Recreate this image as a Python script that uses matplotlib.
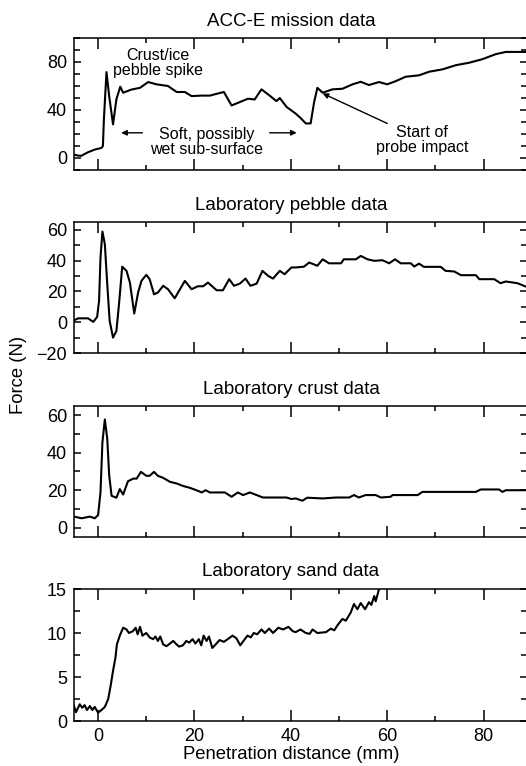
import matplotlib
matplotlib.use("Agg")
import matplotlib.pyplot as plt
from matplotlib.ticker import MultipleLocator

plt.rcParams['font.family'] = ['Liberation Sans', 'DejaVu Sans']

# ACC-E mission data (mm, N)
acc_x = [-5, -4.1, -3.5, -2.1, -0.7, 0.7, 1.0, 1.2, 1.74, 2.3, 3.1, 3.8, 4.6, 5.2, 6.9, 8.7,
         10.4, 12.1, 14.5, 16.3, 18.0, 19.4, 21.5, 23.2, 24.9, 26.1, 27.7, 29.4, 31.1, 32.5,
         33.9, 35.6, 37.0, 37.7, 39.1, 41.0, 42.0, 43.1, 44.1, 44.8, 45.5, 46.6, 48.6, 50.7,
         52.8, 54.5, 56.2, 58.3, 60.0, 61.8, 63.8, 66.6, 68.7, 71.5, 74.2, 77.0, 79.7, 82.5,
         84.6, 89.0]
acc_f = [2.8, 2.0, 1.8, 4.8, 7.0, 8.4, 10, 32, 71.6, 51.6, 28, 49, 59.4, 54.4, 57, 58.5,
         63.3, 61.4, 60, 55, 55, 51.6, 52, 52, 53.8, 55, 43.8, 46.6, 49.4, 48.8,
         57.2, 52, 47.4, 50, 42.6, 37, 33.4, 28.8, 28.8, 46, 58.5, 54.4, 57.2, 57.7,
         61.4, 63.5, 60.8, 63.3, 61.4, 64.1, 67.7, 68.9, 71.9, 73.9, 77.3, 79.4, 82.3, 86.5,
         88.4, 88.4]

# laboratory pebble data
pebble_x = [-5, -4.1, -2.1, -1.0, -0.2, 0.2, 0.5, 0.9, 1.4, 1.9, 2.4, 3.1, 3.8, 4.4, 5.0,
            5.9, 6.6, 7.5, 8.3, 9.0, 10.0, 10.7, 11.6, 12.4, 13.5, 14.5, 15.9, 17.0, 18.0,
            19.4, 20.7, 21.8, 22.8, 24.6, 25.9, 27.2, 28.2, 29.4, 30.6, 31.6, 32.9, 34.1,
            35.3, 36.3, 37.7, 38.7, 40.1, 41.0, 42.7, 43.8, 45.5, 46.6, 47.9, 50.4, 51.0,
            53.5, 54.5, 55.9, 57.3, 59.0, 60.4, 61.6, 62.8, 64.9, 65.6, 66.6, 67.6, 71.1,
            72.1, 73.9, 75.3, 78.4, 79.1, 82.2, 83.5, 84.6, 87.0, 89.0]
pebble_f = [1.2, 2.5, 2.5, 0.2, 3.4, 13.8, 42, 58.8, 50.6, 24.6, 0.8, -10, -5.7, 13.8, 36,
            33.3, 25.7, 5.6, 19.2, 26.8, 30.7, 27.9, 18.1, 19.2, 23.6, 21.4, 15.5, 21.4, 26.8,
            21.4, 23.3, 23.3, 25.7, 20.7, 20.7, 27.9, 23.6, 25, 28.3, 23.6, 25, 33.3,
            30, 28.3, 33.3, 31.1, 35.5, 35.5, 36, 38.7, 36.6, 40.8, 38.2, 38.2, 40.8,
            40.8, 43, 40.8, 39.8, 40.2, 38.2, 40.8, 38.2, 38.2, 36.1, 38, 35.9, 35.9,
            33.3, 32.9, 30.5, 30.5, 27.9, 27.9, 25.3, 26.4, 25.3, 22.8]

# laboratory crust data
crust_x = [-5, -3.4, -1.7, -0.7, 0.0, 0.5, 0.9, 1.4, 1.9, 2.3, 2.8, 3.8, 4.5, 5.2, 6.2, 7.3,
           8.0, 8.9, 10.0, 10.7, 11.6, 12.4, 13.5, 14.9, 16.3, 17.6, 19.0, 20.4, 21.5, 22.3,
           23.2, 26.3, 27.7, 29.0, 30.1, 31.5, 32.9, 34.2, 39.1, 40.1, 41.0, 42.4, 43.4,
           46.6, 49.3, 52.1, 53.1, 54.1, 55.5, 57.6, 58.7, 60.7, 61.1, 66.3, 67.3, 78.4,
           79.4, 83.2, 83.9, 84.6, 89.0]
crust_f = [5.9, 5.0, 5.9, 5.0, 6.7, 19, 45.7, 57.8, 47.5, 28, 17, 16, 20.6, 17.7, 24.8, 26.2,
           26.2, 29.8, 27.7, 27.7, 29.8, 27.7, 26.6, 24.5, 23.6, 22.3, 21.3, 20, 18.8, 20,
           18.8, 18.8, 16.5, 18.8, 17.4, 18.8, 17.4, 16.1, 16.1, 15.3, 15.6, 14.4, 16,
           15.6, 16.1, 16.1, 17.4, 16.1, 17.4, 17.4, 16.1, 16.5, 17.4, 17.4, 19.1, 19.1,
           20.4, 20.4, 19.1, 20, 20]

# laboratory sand data
sand_x = [-5, -4.6, -3.8, -3.3, -2.8, -2.3, -1.7, -1.2, -0.7, 0.0, 0.7, 1.4, 2.1, 2.6, 3.1,
          3.6, 3.9, 4.5, 5.2, 5.9, 6.4, 7.2, 7.8, 8.2, 8.7, 9.2, 10.0, 10.7, 11.4, 11.9,
          12.4, 12.9, 13.5, 14.2, 14.9, 15.6, 16.1, 16.8, 17.6, 18.3, 18.9, 19.6, 20.2,
          20.9, 21.4, 21.9, 22.5, 23.0, 23.7, 24.4, 25.2, 26.1, 26.9, 27.9, 28.7, 29.5,
          30.3, 31.0, 31.7, 32.3, 33.0, 33.9, 34.6, 35.5, 36.3, 37.4, 38.4, 39.5, 40.4,
          41.0, 42.0, 43.1, 43.9, 44.5, 45.5, 47.3, 48.3, 49.0, 49.7, 50.7, 51.4, 52.4,
          53.1, 53.8, 54.5, 55.4, 56.2, 56.7, 57.3, 57.6, 58.3, 59.0]
sand_f = [1.7, 1.0, 1.9, 1.5, 1.8, 1.25, 1.7, 1.25, 1.6, 0.95, 1.25, 1.6, 2.5, 4.0, 5.7,
          7.2, 8.7, 9.7, 10.6, 10.4, 10.0, 10.2, 10.6, 9.85, 10.7, 9.7, 10.0, 9.5, 9.3, 9.6,
          9.1, 9.6, 8.7, 8.5, 8.8, 9.1, 8.8, 8.45, 8.6, 9.1, 8.9, 9.3, 8.8,
          9.3, 8.6, 9.7, 9.1, 9.6, 8.3, 8.7, 9.2, 9.0, 9.3, 9.7, 9.4, 8.6,
          9.2, 9.7, 9.5, 10.0, 9.85, 10.4, 10.0, 10.5, 10.0, 10.6, 10.4, 10.7, 10.2,
          10.1, 10.4, 10.0, 9.9, 10.4, 10.0, 10.1, 10.5, 10.3, 10.9, 11.6, 11.4, 12.3,
          13.3, 12.7, 13.4, 12.7, 13.5, 13.2, 14.2, 13.6, 15.0, 15.4]

titles = ["ACC-E mission data", "Laboratory pebble data",
          "Laboratory crust data", "Laboratory sand data"]
ylims = [(-10, 100), (-20, 65), (-5, 65), (0, 15)]
ymajor = [40, 20, 20, 5]
yminor = [10, 10, 10, 2.5]
series = [(acc_x, acc_f), (pebble_x, pebble_f), (crust_x, crust_f), (sand_x, sand_f)]

W, H = 526, 766
fig = plt.figure(figsize=(W / 100, H / 100), dpi=100)

# panel boxes in pixels (top, bottom)
boxes = [(38, 170), (222, 353), (406, 537), (589, 721)]
left_px, right_px = 74, 527

axes = []
for i, (top, bot) in enumerate(boxes):
    ax = fig.add_axes([left_px / W, 1 - bot / H, (right_px - left_px) / W, (bot - top) / H])
    x, f = series[i]
    ax.plot(x, f, color='black', lw=1.5, solid_joinstyle='round')
    ax.set_xlim(-5, 89)
    ax.set_ylim(*ylims[i])
    ax.xaxis.set_major_locator(MultipleLocator(20))
    ax.xaxis.set_minor_locator(MultipleLocator(10))
    ax.yaxis.set_major_locator(MultipleLocator(ymajor[i]))
    ax.yaxis.set_minor_locator(MultipleLocator(yminor[i]))
    ax.tick_params(axis='both', which='both', direction='in', top=True, right=True,
                   width=1.1, labelsize=13)
    ax.tick_params(axis='x', which='major', length=8, pad=5)
    ax.tick_params(axis='x', which='minor', length=3.6)
    ax.tick_params(axis='y', which='major', length=5, pad=5)
    ax.tick_params(axis='y', which='minor', length=4)
    for s in ax.spines.values():
        s.set_linewidth(1.1)
    if i < 3:
        ax.tick_params(axis='x', labelbottom=False)
    fig.text(291 / W, 1 - (top - 17) / H, titles[i], ha='center', va='center', fontsize=13.5)
    axes.append(ax)

ax1 = axes[0]
ax1.text(12.4, 79.5, "Crust/ice\npebble spike", ha='center', va='center',
         fontsize=11.5, linespacing=1.0)
ax1.text(22.5, 13.5, "Soft, possibly\nwet sub-surface", ha='center', va='center',
         fontsize=11.5, linespacing=1.0)
ax1.text(67.3, 14.8, "Start of\nprobe impact", ha='center', va='center',
         fontsize=11.5, linespacing=1.0)
arrow = dict(arrowstyle='-|>', color='black', lw=1.0, mutation_scale=8, shrinkA=0, shrinkB=0)
ax1.annotate('', xy=(4.8, 21), xytext=(9.2, 21), arrowprops=arrow)
ax1.annotate('', xy=(41.2, 21), xytext=(35.6, 21), arrowprops=arrow)
ax1.annotate('', xy=(46.6, 53.8), xytext=(60.0, 28.8), arrowprops=arrow)

fig.text(291 / W, 1 - 754.5 / H, "Penetration distance (mm)", ha='center', va='center',
         fontsize=13.3)
fig.text(19 / W, 1 - 375 / H, "Force (N)", ha='center', va='center', rotation=90,
         fontsize=13.3)

fig.savefig("out.png", dpi=100)
